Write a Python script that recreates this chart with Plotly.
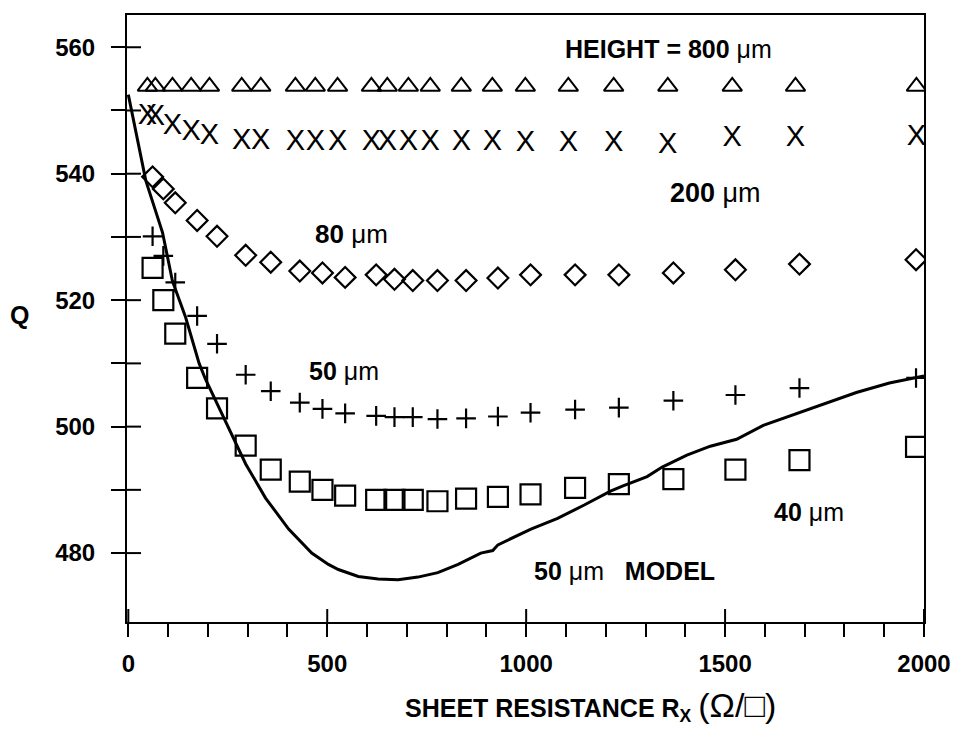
import plotly.graph_objects as go

# ---------------- data ----------------
# sheet resistance grid for the 800 um and 200 um series (ohm/sq)
r_grid_a = [48, 68, 111, 158, 204, 285, 333, 420, 470, 526, 611, 651, 704, 759,
            837, 915, 998, 1106, 1220, 1356, 1518, 1677, 1981]
# sheet resistance grid for the 80, 50 and 40 um series (ohm/sq)
r_grid_b = [61, 88, 118, 173, 223, 295, 358, 431, 488, 545, 623, 669, 715, 777,
            849, 929, 1011, 1123, 1233, 1370, 1526, 1687, 1980]

q_800um = [553.8, 553.8, 553.8, 553.8, 553.8, 553.8, 553.8, 553.8, 553.8, 553.8,
           553.8, 553.8, 553.8, 553.8, 553.8, 553.8, 553.8, 553.8, 553.8, 553.8,
           553.8, 553.8, 553.8]
q_200um = [549.0, 548.8, 547.5, 546.5, 545.8, 545.1, 545.0, 544.9, 544.9, 544.9,
           544.9, 544.9, 544.9, 544.9, 544.9, 544.9, 544.8, 544.8, 544.8, 544.5,
           545.5, 545.5, 545.7]
q_80um = [539.5, 537.6, 535.4, 532.6, 530.1, 527.1, 526.0, 524.6, 524.3, 523.6,
          524.0, 523.3, 523.1, 523.1, 523.1, 523.5, 524.0, 524.0, 524.0, 524.3,
          524.8, 525.7, 526.4]
q_50um = [530.1, 527.0, 522.8, 517.5, 513.1, 508.2, 505.6, 503.8, 502.8, 502.1,
          501.7, 501.5, 501.5, 501.2, 501.3, 501.6, 502.2, 502.7, 503.0, 504.1,
          505.0, 506.1, 507.7]
q_40um = [525.1, 520.0, 514.7, 507.7, 502.9, 497.0, 493.2, 491.3, 490.0, 489.1,
          488.4, 488.4, 488.4, 488.2, 488.6, 488.9, 489.3, 490.3, 490.9, 491.7,
          493.2, 494.7, 496.8]

# 50 um model curve
r_model = [0, 44, 86, 111, 144, 178, 194, 245, 295, 345, 403, 461, 503, 528, 578,
           628, 678, 728, 778, 829, 886, 916, 929, 1012, 1079, 1146, 1212, 1242,
           1304, 1342, 1404, 1463, 1529, 1596, 1663, 1746, 1830, 1913, 2000]
q_model = [552.5, 538.9, 530.7, 523.0, 517.3, 510.0, 507.5, 500.7, 494.1, 488.7,
           483.8, 480.0, 478.2, 477.4, 476.3, 475.9, 475.8, 476.2, 476.9, 478.2,
           480.0, 480.4, 481.3, 483.8, 485.5, 487.6, 489.8, 490.6, 492.1, 493.6,
           495.5, 496.9, 498.0, 500.2, 501.7, 503.5, 505.4, 506.9, 508.0]

x_ticks = [0, 500, 1000, 1500, 2000]
x_tick_labels = ["0", "500", "1000", "1500", "2000"]
q_ticks = [480, 500, 520, 540, 560]
q_tick_labels = ["480", "500", "520", "540", "560"]
q_minor_ticks = [490, 510, 530, 550]

X_RANGE = [-3.3, 2000]
Y_RANGE = [469.1, 565.1]

FONT = "Liberation Sans, Arial, Helvetica, sans-serif"
BLACK = "black"

fig = go.Figure()

fig.add_trace(go.Scatter(
    x=r_model, y=q_model, mode="lines",
    line=dict(color=BLACK, width=3), hoverinfo="skip", showlegend=False))
fig.add_trace(go.Scatter(
    x=r_grid_a, y=q_800um, mode="markers",
    marker=dict(symbol="triangle-up-open", size=17, color=BLACK,
                line=dict(width=2, color=BLACK)), showlegend=False))
fig.add_trace(go.Scatter(
    x=r_grid_a, y=q_200um, mode="text", text="X", textposition="middle center",
    textfont=dict(family="Liberation Sans, Arial", size=29, color=BLACK),
    showlegend=False))
fig.add_trace(go.Scatter(
    x=r_grid_b, y=q_80um, mode="markers",
    marker=dict(symbol="diamond-open", size=16, color=BLACK,
                line=dict(width=2.2, color=BLACK)), showlegend=False))
fig.add_trace(go.Scatter(
    x=r_grid_b, y=q_50um, mode="markers",
    marker=dict(symbol="cross-thin-open", size=14, color=BLACK,
                line=dict(width=2.2, color=BLACK)), showlegend=False))
fig.add_trace(go.Scatter(
    x=r_grid_b, y=q_40um, mode="markers",
    marker=dict(symbol="square-open", size=20, color=BLACK,
                line=dict(width=2.2, color=BLACK)), showlegend=False))

tickfont = dict(family=FONT, size=24, color=BLACK, weight="bold")

fig.update_layout(
    width=963, height=729,
    margin=dict(l=127, r=35, t=15, b=107),
    paper_bgcolor="white", plot_bgcolor="white",
    font=dict(family=FONT, color=BLACK),
    showlegend=False,
    xaxis=dict(
        range=X_RANGE, showgrid=False, zeroline=False,
        showline=True, linecolor=BLACK, linewidth=2, mirror=True,
        tickmode="array", tickvals=x_ticks, ticktext=x_tick_labels,
        ticks="outside", ticklen=13, tickwidth=2, tickcolor=BLACK,
        minor=dict(dtick=100, tick0=0, ticks="outside", ticklen=13,
                   tickwidth=1.6, tickcolor=BLACK),
        tickfont=tickfont, ticklabelstandoff=6,
    ),
    yaxis=dict(
        range=Y_RANGE, showgrid=False, zeroline=False,
        showline=True, linecolor=BLACK, linewidth=2, mirror=True,
        tickmode="array", tickvals=q_ticks, ticktext=q_tick_labels,
        ticks="outside", ticklen=14, tickwidth=2, tickcolor=BLACK,
        minor=dict(tickmode="array", tickvals=q_minor_ticks, ticks="outside",
                   ticklen=14, tickwidth=2, tickcolor=BLACK),
        tickfont=tickfont, ticklabelstandoff=11,
    ),
)

# inner halves of the crossing ticks (the reference ticks cross the axis lines),
# placed at the axis tick values with pixel lengths
for v in x_ticks:
    fig.add_shape(type="line", xref="x", yref="paper", x0=v, x1=v,
                  ysizemode="pixel", yanchor=0, y0=0, y1=13,
                  line=dict(color=BLACK, width=2), layer="above")
for v in q_ticks + q_minor_ticks:
    fig.add_shape(type="line", xref="paper", yref="y", y0=v, y1=v,
                  xsizemode="pixel", xanchor=0, x0=0, x1=14,
                  line=dict(color=BLACK, width=2), layer="above")

def label(x, y, bold, rest="", size=25):
    fig.add_annotation(
        x=x, y=y, xref="x", yref="y", showarrow=False,
        xanchor="center", yanchor="middle",
        text="<b>" + bold + "</b>" + rest,
        font=dict(family=FONT, size=size, color=BLACK))

label(1357, 559.8, "HEIGHT = 800 ", "μm")
label(1477, 537.0, "200 ", "μm", size=27)
label(561, 530.4, "80 ", "μm", size=26)
label(541, 508.75, "50 ", "μm")
label(1711, 486.5, "40 ", "μm")
label(1246, 477.1, "50 ", "μm<b>   MODEL</b>")

# axis titles
fig.add_annotation(
    x=(19 - 127) / 801, y=(622 - 315) / 607, xref="paper", yref="paper",
    showarrow=False, xanchor="center", yanchor="middle",
    text="<b>Q</b>", font=dict(family=FONT, size=25, color=BLACK))
fig.add_annotation(
    x=(592.5 - 127) / 801, y=(622 - 706) / 607, xref="paper", yref="paper",
    showarrow=False, xanchor="center", yanchor="middle",
    text="<b>SHEET RESISTANCE R<sub>X</sub></b> "
         "<span style='font-size:34px'>(Ω/□)</span>",
    font=dict(family=FONT, size=25, color=BLACK))

fig.write_html("out.html")
